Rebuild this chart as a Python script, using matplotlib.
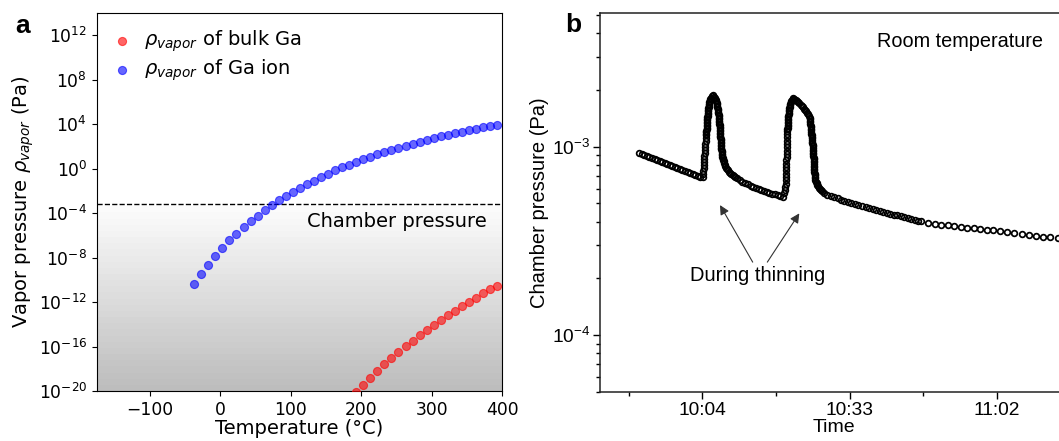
import numpy as np
import matplotlib
matplotlib.use('Agg')
import matplotlib.pyplot as plt
from matplotlib.ticker import (FixedLocator, FixedFormatter, LogLocator,
                               NullFormatter, FuncFormatter, NullLocator)

# ---------------- panel a: vapor pressure vs temperature ----------------
ion_temp = [-37, -27, -17, -7, 3, 13, 23, 33, 43, 53, 63, 73, 83, 93, 103,
            113, 123, 133, 143, 153, 163, 173, 183, 193, 203, 213, 223, 233,
            243, 253, 263, 273, 283, 293, 303, 313, 323, 333, 343, 353, 363,
            373, 383, 393]
# log10 of the vapor pressure in Pa
ion_log_p = [-10.40, -9.46, -8.65, -7.84, -7.15, -6.46, -5.89, -5.29, -4.75, -4.23,
             -3.75, -3.24, -2.85, -2.43, -2.07, -1.74, -1.38, -1.08, -0.78, -0.45,
             -0.15, 0.12, 0.36, 0.60, 0.84, 1.08, 1.29, 1.50, 1.68, 1.89,
             2.07, 2.25, 2.43, 2.58, 2.76, 2.91, 3.06, 3.21, 3.33, 3.48,
             3.60, 3.72, 3.84, 3.96]
bulk_temp = [193, 203, 213, 223, 233, 243, 253, 263, 273, 283, 293, 303, 313,
             323, 333, 343, 353, 363, 373, 383, 393]
bulk_log_p = [-20.10, -19.46, -18.80, -18.20, -17.60, -17.06, -16.50, -15.98,
              -15.47, -14.98, -14.50, -14.05, -13.60, -13.18, -12.76, -12.34,
              -11.98, -11.59, -11.20, -10.86, -10.54]
chamber_p = 6.6e-4

# ---------------- panel b: chamber pressure vs time ----------------
# time in minutes of the day (10:04 -> 604), pressure in units of 1e-3 Pa
base1_t = [591.6, 592.1, 592.6, 593.1, 593.6, 594.1, 594.6, 595.1, 595.6, 596.1,
           596.6, 597.1, 597.6, 598.1, 598.6, 599.1, 599.6, 600.1, 600.6, 601.1,
           601.6, 602.1, 602.6, 603.1, 603.6]
base1_p = [0.929, 0.918, 0.906, 0.895, 0.884, 0.873, 0.862, 0.852, 0.841, 0.831,
           0.821, 0.811, 0.801, 0.791, 0.781, 0.772, 0.762, 0.753, 0.744, 0.735,
           0.726, 0.717, 0.708, 0.699, 0.690]

rise1_t = [604.10, 604.14, 604.19, 604.24, 604.28, 604.33, 604.37, 604.41, 604.45,
           604.50, 604.55, 604.59, 604.64, 604.69, 604.73, 604.76, 604.79, 604.81,
           604.83, 604.85, 604.87, 604.89, 604.92, 604.95, 604.99, 605.00, 605.02,
           605.05, 605.08, 605.11, 605.14, 605.18, 605.21, 605.24, 605.28, 605.34,
           605.40, 605.48, 605.58, 605.69, 605.85]
rise1_p = [0.6905, 0.7162, 0.7430, 0.7707, 0.7995, 0.8294, 0.8604, 0.8925, 0.9259,
           0.9605, 0.9963, 1.0336, 1.0722, 1.1122, 1.1538, 1.1751, 1.1968, 1.2190,
           1.2415, 1.2645, 1.2879, 1.3118, 1.3360, 1.3608, 1.3860, 1.4116, 1.4378,
           1.4644, 1.4915, 1.5191, 1.5472, 1.5758, 1.6050, 1.6347, 1.6650, 1.6958,
           1.7272, 1.7591, 1.7917, 1.8249, 1.8586]

fall1_t = [606.11, 606.40, 606.55, 606.68, 606.76, 606.83, 606.90, 606.95, 606.99,
           607.04, 607.09, 607.13, 607.17, 607.20, 607.23, 607.26, 607.29, 607.32,
           607.35, 607.37, 607.39, 607.42, 607.45, 607.47, 607.49, 607.51, 607.53,
           607.55, 607.57, 607.59, 607.61, 607.63, 607.66, 607.69, 607.72, 607.75,
           607.78, 607.81, 607.84, 607.88, 607.92, 607.98, 608.04, 608.11, 608.18,
           608.28, 608.39, 608.53, 608.69, 608.87, 609.06, 609.28, 609.52, 609.75,
           610.01, 610.26, 610.54, 610.82]
fall1_p = [1.8815, 1.8473, 1.8138, 1.7808, 1.7485, 1.7167, 1.6855, 1.6549, 1.6248,
           1.5953, 1.5663, 1.5379, 1.5099, 1.4825, 1.4555, 1.4291, 1.4031, 1.3776,
           1.3526, 1.3280, 1.3039, 1.2802, 1.2569, 1.2341, 1.2117, 1.1897, 1.1680,
           1.1468, 1.1260, 1.1055, 1.0854, 1.0657, 1.0463, 1.0273, 1.0087, 0.9903,
           0.9723, 0.9547, 0.9373, 0.9203, 0.9036, 0.8872, 0.8711, 0.8552, 0.8397,
           0.8193, 0.8035, 0.7888, 0.7745, 0.7614, 0.7494, 0.7384, 0.7277, 0.7171,
           0.7067, 0.6973, 0.6879, 0.6796]

base2_t = [611.37, 611.90, 612.43, 612.96, 613.50, 614.03, 614.56, 615.09, 615.62,
           616.16, 616.69, 617.22, 617.75, 618.28, 618.82, 619.35, 619.80]
base2_p = [0.6656, 0.6535, 0.6424, 0.6323, 0.6223, 0.6132, 0.6051, 0.5970, 0.5897,
           0.5826, 0.5762, 0.5699, 0.5636, 0.5582, 0.5527, 0.5473, 0.5427]

rise2_t = [620.14, 620.35, 620.38, 620.41, 620.45, 620.47, 620.49, 620.51, 620.53,
           620.55, 620.57, 620.59, 620.61, 620.63, 620.65, 620.67, 620.69, 620.71,
           620.73, 620.75, 620.77, 620.79, 620.81, 620.83, 620.85, 620.87, 620.88,
           620.91, 620.94, 620.97, 621.00, 621.03, 621.06, 621.10, 621.14, 621.18,
           621.24, 621.34, 621.44, 621.57, 621.71, 621.83, 621.93]
rise2_p = [0.5650, 0.5883, 0.6125, 0.6377, 0.6640, 0.6913, 0.7198, 0.7494, 0.7803,
           0.8124, 0.8458, 0.8806, 0.9169, 0.9547, 0.9940, 1.0349, 1.0775, 1.1218,
           1.1680, 1.2161, 1.2386, 1.2615, 1.2849, 1.3087, 1.3329, 1.3576, 1.3827,
           1.4083, 1.4344, 1.4609, 1.4880, 1.5155, 1.5436, 1.5722, 1.6013, 1.6309,
           1.6611, 1.6919, 1.7232, 1.7505, 1.7764, 1.7961, 1.8093]

fall2_t = [622.16, 622.40, 622.64, 622.87, 623.11, 623.35, 623.58, 623.82, 624.06,
           624.29, 624.51, 624.71, 624.88, 625.02, 625.14, 625.18, 625.22, 625.26,
           625.30, 625.34, 625.38, 625.42, 625.45, 625.48, 625.51, 625.54, 625.57,
           625.60, 625.63, 625.66, 625.69, 625.72, 625.75, 625.78, 625.81, 625.83,
           625.85, 625.87, 625.89, 625.91, 625.93, 625.95, 625.97, 625.99, 626.01,
           626.03, 626.05, 626.07, 626.09, 626.12, 626.16, 626.20, 626.25, 626.30,
           626.40, 626.52, 626.66, 626.81, 626.99, 627.19, 627.41, 627.64]
fall2_p = [1.8005, 1.7787, 1.7527, 1.7250, 1.6978, 1.6711, 1.6447, 1.6188, 1.5932,
           1.5662, 1.5396, 1.5135, 1.4860, 1.4572, 1.4290, 1.4013, 1.3742, 1.3476,
           1.3215, 1.2959, 1.2708, 1.2462, 1.2221, 1.1984, 1.1752, 1.1525, 1.1302,
           1.1083, 1.0868, 1.0658, 1.0451, 1.0249, 1.0050, 0.9856, 0.9665, 0.9478,
           0.9294, 0.9114, 0.8938, 0.8765, 0.8595, 0.8429, 0.8265, 0.8105, 0.7948,
           0.7794, 0.7643, 0.7495, 0.7350, 0.7208, 0.7068, 0.6931, 0.6797, 0.6666,
           0.6535, 0.6416, 0.6299, 0.6185, 0.6073, 0.5970, 0.5876, 0.5790]

tail_t = [627.88, 628.57, 629.26, 629.95, 630.64, 631.33, 632.01, 632.70, 633.39,
          634.08, 634.77, 635.46, 636.15, 636.84, 637.53, 638.22, 638.91, 639.60,
          640.29, 640.98, 641.67, 642.36, 643.05, 643.74, 644.43, 645.12, 645.81,
          646.50, 647.18, 648.47, 649.75, 651.03, 652.31, 653.59, 654.87, 656.15,
          657.43, 658.71, 659.99, 661.27, 662.65, 664.07, 665.49, 666.91, 668.32,
          669.74, 671.16, 672.58, 674.00, 675.42]
tail_p = [0.5713, 0.5568, 0.5473, 0.5393, 0.5315, 0.5225, 0.5158, 0.5099, 0.5043,
          0.4982, 0.4915, 0.4855, 0.4794, 0.4738, 0.4683, 0.4629, 0.4573, 0.4523,
          0.4471, 0.4419, 0.4365, 0.4318, 0.4268, 0.4221, 0.4178, 0.4137, 0.4097,
          0.4057, 0.4017, 0.3959, 0.3906, 0.3859, 0.3821, 0.3788, 0.3758, 0.3724,
          0.3692, 0.3661, 0.3630, 0.3599, 0.3564, 0.3522, 0.3482, 0.3444, 0.3404,
          0.3369, 0.3332, 0.3298, 0.3264, 0.3232]

time_ticks = [604, 633, 662]
time_labels = ['10:04', '10:33', '11:02']

plt.rcParams['mathtext.rm'] = 'Liberation Sans'
plt.rcParams['mathtext.it'] = 'Liberation Sans:italic'
plt.rcParams['mathtext.bf'] = 'Liberation Sans:bold'

fig = plt.figure(figsize=(10.59, 4.41), dpi=100)
W, H = 1059, 441

# ---- panel a ----
axa = fig.add_axes([97 / W, 1 - 391 / H, 405 / W, 378 / H])
axa.set_yscale('log')
axa.set_xlim(-175, 400)
axa.set_ylim(1e-20, 1e14)

# shaded region below the chamber pressure (banded gradient)
nb = 30
edges = np.logspace(-20, np.log10(chamber_p) - 0.2, nb + 1)
for i in range(nb):
    g = 0.74 + (0.985 - 0.74) * (i / (nb - 1))
    axa.axhspan(edges[i], edges[i + 1], color=(g, g, g), lw=0, zorder=0)
axa.axhline(chamber_p, color='black', ls='--', lw=1.0, zorder=1)

axa.scatter(bulk_temp, 10.0 ** np.array(bulk_log_p), s=34, color='red', alpha=0.6,
            linewidths=0.8, label=r'$\rho_{vapor}$ of bulk Ga', zorder=3)
axa.scatter(ion_temp, 10.0 ** np.array(ion_log_p), s=34, color='blue', alpha=0.6,
            linewidths=0.8, label=r'$\rho_{vapor}$ of Ga ion', zorder=3)

axa.text(378, 1.7e-5, 'Chamber pressure', fontsize=14, ha='right', va='center')
axa.set_yticks([10.0 ** e for e in range(-20, 13, 4)])
axa.yaxis.set_minor_locator(NullLocator())
axa.set_xticks([-100, 0, 100, 200, 300, 400])
axa.tick_params(labelsize=12.3)
axa.set_xlabel('Temperature (°C)', fontsize=14, labelpad=0)
axa.set_ylabel(r'Vapor pressure $\rho_{vapor}$ (Pa)', fontsize=14, labelpad=2)
axa.legend(loc='upper left', frameon=False, fontsize=14, handlelength=1.0,
           handletextpad=0.6, labelspacing=0.2, borderaxespad=0.5,
           borderpad=0.3)

fig.text(15 / W, 1 - 26 / H, 'a', fontsize=19, fontweight='bold',
         fontfamily='Liberation Sans', va='center')

# ---- panel b ----
fam = 'Liberation Sans'
axb = fig.add_axes([600 / W, 1 - 392.3 / H, 467.8 / W, 379 / H])
t_all = base1_t + rise1_t + fall1_t + base2_t + rise2_t + fall2_t + tail_t
p_all = np.array(base1_p + rise1_p + fall1_p + base2_p + rise2_p + fall2_p + tail_p) * 1e-3
axb.plot(t_all, p_all, 'o', mfc='none', mec='black', ms=4.1, mew=1.25)
axb.set_yscale('log')
axb.set_xlim(583.85, 676)
axb.set_ylim(4.97e-5, 5.11e-3)

axb.xaxis.set_major_locator(FixedLocator(time_ticks))
axb.xaxis.set_major_formatter(FixedFormatter(time_labels))
axb.xaxis.set_minor_locator(FixedLocator([589.5, 618.5, 647.5, 676.5]))
axb.yaxis.set_major_locator(FixedLocator([1e-4, 1e-3]))
axb.yaxis.set_major_formatter(FuncFormatter(lambda v, pos: r'$10^{%d}$' % round(np.log10(v))))
axb.yaxis.set_minor_locator(LogLocator(base=10, subs=np.arange(2, 10), numticks=20))
axb.yaxis.set_minor_formatter(NullFormatter())
axb.tick_params(which='major', length=5, width=1.0, pad=2, labelsize=13.8)
axb.tick_params(which='minor', length=3, width=1.0)
for tk in axb.xaxis.get_major_ticks() + axb.yaxis.get_major_ticks():
    tk.label1.set_fontfamily(fam)
    tk.label1.set_math_fontfamily('custom')
for sp in axb.spines.values():
    sp.set_linewidth(1.1)
    sp.set_color('#222222')

axb.set_xlabel('Time', fontsize=14, fontfamily=fam, labelpad=0)
axb.set_ylabel('Chamber pressure (Pa)', fontsize=14.5, fontfamily=fam, labelpad=2)
axb.text(638.4, 3.6e-3, 'Room temperature', fontsize=14.3, fontfamily=fam,
         ha='left', va='center')
axb.text(614.97, 2.08e-4, 'During thinning', fontsize=14.5, fontfamily=fam,
         ha='center', va='center')
arrow = dict(arrowstyle='-|>', color='#333333', lw=0.8, mutation_scale=14,
             shrinkA=0, shrinkB=0)
axb.annotate('', xy=(607.49, 4.90e-4), xytext=(613.93, 2.44e-4), arrowprops=arrow)
axb.annotate('', xy=(623.11, 4.43e-4), xytext=(616.81, 2.44e-4), arrowprops=arrow)

fig.text(565 / W, 1 - 25 / H, 'b', fontsize=19, fontweight='bold',
         fontfamily=fam, va='center')

fig.savefig('out.png', dpi=100)
